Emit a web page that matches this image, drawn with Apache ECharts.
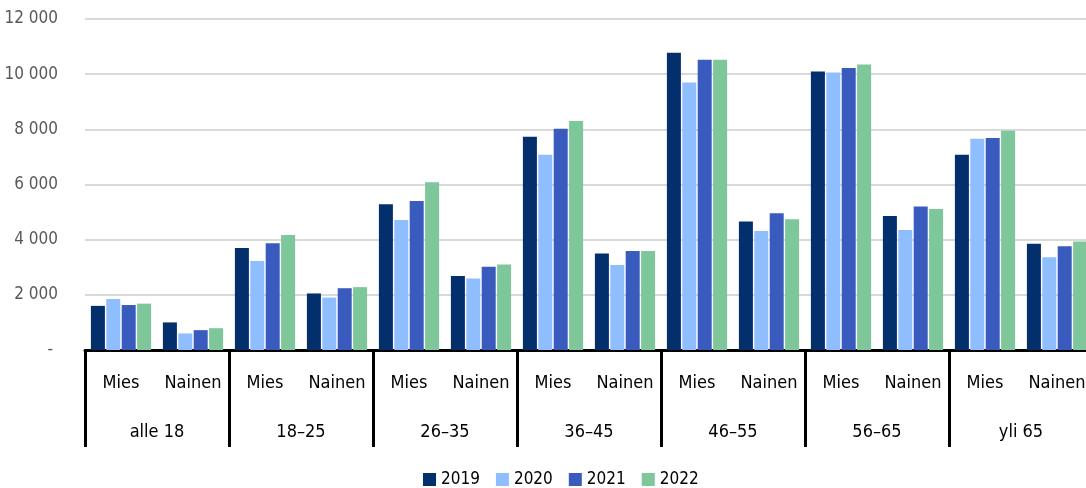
<!DOCTYPE html>
<html>
<head>
<meta charset="utf-8">
<script src="https://cdn.jsdelivr.net/npm/echarts@6/dist/echarts.min.js"></script>
<style>
  html, body { margin: 0; padding: 0; background: #fff; }
  #chart { width: 1086px; height: 488px; }
</style>
</head>
<body>
<div id="chart"></div>
<script>
// categories: gender inside each age group
const genders = ['Mies', 'Nainen', 'Mies', 'Nainen', 'Mies', 'Nainen', 'Mies', 'Nainen',
                 'Mies', 'Nainen', 'Mies', 'Nainen', 'Mies', 'Nainen'];
const ageGroups = ['alle 18', '18–25', '26–35', '36–45', '46–55', '56–65', 'yli 65'];
const years = ['2019', '2020', '2021', '2022'];

const data2019 = [1600, 1000, 3700, 2050, 5280, 2680, 7730, 3500, 10780, 4660, 10100, 4860, 7080, 3850];
const data2020 = [1850, 600, 3230, 1900, 4710, 2590, 7080, 3080, 9700, 4310, 10060, 4350, 7660, 3360];
const data2021 = [1630, 720, 3870, 2240, 5400, 3020, 8020, 3590, 10520, 4960, 10220, 5200, 7690, 3760];
const data2022 = [1680, 790, 4170, 2280, 6080, 3100, 8300, 3590, 10520, 4740, 10350, 5110, 7950, 3930];

const yTicks = [0, 2000, 4000, 6000, 8000, 10000, 12000];
const colors = ['#032F6C', '#8FBEFF', '#3A5BBE', '#7DC79A'];

const font = "'DejaVu Sans Condensed', 'Liberation Sans Narrow', sans-serif";

var chart = echarts.init(document.getElementById('chart'));

// thousands with a space, zero shown as a dash
function fmt(v) {
    if (v === 0) return '- ';
    return String(v).replace(/\B(?=(\d{3})+(?!\d))/g, ' ');
}

const seriesData = [data2019, data2020, data2021, data2022];

var option = {
    animation: false,
    color: colors,
    grid: {
        left: 85,
        right: -7,
        top: 19,
        bottom: 138,
        outerBoundsMode: 'none'
    },
    legend: {
        left: 423,
        top: 471,
        padding: 0,
        itemWidth: 13,
        itemHeight: 13,
        itemGap: 16,
        icon: 'rect',
        textStyle: {
            fontFamily: font,
            fontSize: 17,
            color: '#000'
        },
        data: years
    },
    xAxis: [
        {
            type: 'category',
            data: genders,
            axisLine: { lineStyle: { color: '#000', width: 3 } },
            axisTick: { show: false },
            axisLabel: {
                interval: 0,
                margin: 24,
                fontFamily: font,
                fontSize: 18,
                color: '#000'
            }
        },
        {
            type: 'category',
            data: ageGroups,
            position: 'bottom',
            axisLine: { show: false },
            axisTick: {
                show: true,
                interval: 0,
                length: 97,
                lineStyle: { color: '#000', width: 3 }
            },
            axisLabel: {
                interval: 0,
                margin: 73,
                fontFamily: font,
                fontSize: 18,
                color: '#000'
            }
        }
    ],
    yAxis: {
        type: 'value',
        min: yTicks[0],
        max: yTicks[yTicks.length - 1],
        interval: 2000,
        axisLine: { show: false },
        axisTick: { show: false },
        splitLine: { lineStyle: { color: '#d9d9d9', width: 2 } },
        axisLabel: {
            margin: 27,
            fontFamily: font,
            fontSize: 17,
            color: '#595959',
            formatter: fmt
        }
    },
    series: years.map((y, i) => ({
        name: y,
        type: 'bar',
        xAxisIndex: 0,
        barWidth: 14,
        barGap: '10%',
        data: seriesData[i]
    }))
};

chart.setOption(option);
</script>
</body>
</html>
